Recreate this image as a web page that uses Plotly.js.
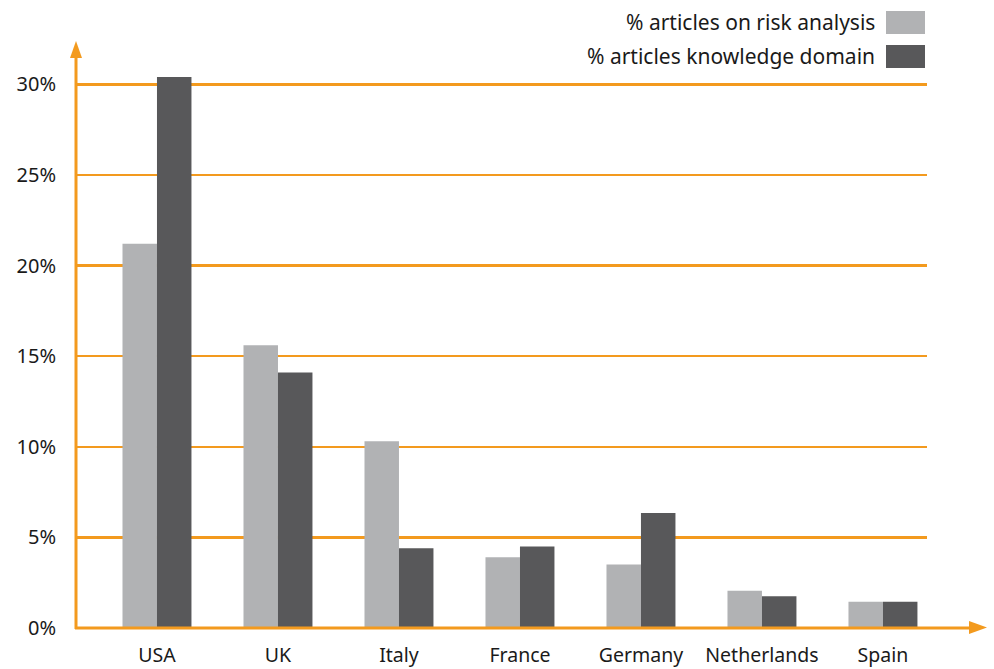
<!DOCTYPE html>
<html>
<head>
<meta charset="utf-8">
<script src="https://cdn.plot.ly/plotly-3.0.1.min.js"></script>
<style>html,body{margin:0;padding:0;background:#fff;}#chart{width:994px;height:669px;}</style>
</head>
<body>
<div id="chart"></div>
<script>
const countries = ["USA", "UK", "Italy", "France", "Germany", "Netherlands", "Spain"];
const riskAnalysis = [21.2, 15.6, 10.3, 3.9, 3.5, 2.05, 1.45];
const knowledgeDomain = [30.4, 14.1, 4.4, 4.5, 6.35, 1.75, 1.45];
const seriesNames = ["% articles on risk analysis", "% articles knowledge domain"];
const yTickVals = [0, 5, 10, 15, 20, 25, 30];
const yTickText = ["0%", "5%", "10%", "15%", "20%", "25%", "30%"];

const W = 994, H = 669;
const M = {l: 77, r: 67, t: 39, b: 41};
const PW = W - M.l - M.r, PH = H - M.t - M.b;
const px = x => (x - M.l) / PW;
const py = y => (H - M.b - y) / PH;

const ORANGE = "#f39a1e";
const LIGHT = "#b1b2b4";
const DARK = "#58585a";
const FONT = "Noto Sans, sans-serif";

const traces = [
  {type: "bar", x: countries, y: riskAnalysis, name: seriesNames[0], marker: {color: LIGHT}, showlegend: false},
  {type: "bar", x: countries, y: knowledgeDomain, name: seriesNames[1], marker: {color: DARK}, showlegend: false}
];

function tri(a, b, c) {
  return `M ${px(a[0])},${py(a[1])} L ${px(b[0])},${py(b[1])} L ${px(c[0])},${py(c[1])} Z`;
}

const shapes = [
  {type: "line", xref: "paper", yref: "paper", x0: px(75), x1: px(972), y0: 0, y1: 0, line: {color: ORANGE, width: 3}, layer: "above"},
  {type: "path", xref: "paper", yref: "paper", path: tri([969, 621], [987, 627.5], [969, 634]), fillcolor: ORANGE, line: {width: 0}},
  {type: "line", xref: "paper", yref: "paper", x0: px(76), x1: px(76), y0: py(629), y1: py(55), line: {color: ORANGE, width: 3}, layer: "above"},
  {type: "path", xref: "paper", yref: "paper", path: tri([70, 58], [76, 41], [82, 58]), fillcolor: ORANGE, line: {width: 0}},
  {type: "rect", xref: "paper", yref: "paper", x0: px(886), x1: px(925), y0: py(34), y1: py(11), fillcolor: LIGHT, line: {width: 0}},
  {type: "rect", xref: "paper", yref: "paper", x0: px(886), x1: px(925), y0: py(68), y1: py(45), fillcolor: DARK, line: {width: 0}}
];

const annotations = [
  {xref: "paper", yref: "paper", x: px(877), y: py(22), xanchor: "right", yanchor: "middle", text: seriesNames[0], showarrow: false, font: {family: FONT, size: 21, color: "#1a1a1a"}},
  {xref: "paper", yref: "paper", x: px(877), y: py(56), xanchor: "right", yanchor: "middle", text: seriesNames[1], showarrow: false, font: {family: FONT, size: 21, color: "#1a1a1a"}}
];

const layout = {
  width: W, height: H,
  margin: M,
  paper_bgcolor: "#fff", plot_bgcolor: "#fff",
  barmode: "group", bargap: 0.43, bargroupgap: 0,
  font: {family: FONT, color: "#1a1a1a"},
  xaxis: {
    type: "category", range: [-0.661, 6.364],
    showgrid: false, zeroline: false, showline: false, ticks: "",
    tickfont: {family: FONT, size: 19.5, color: "#1a1a1a"},
    ticklabelstandoff: 13
  },
  yaxis: {
    range: [0, 32.5], tickvals: yTickVals, ticktext: yTickText,
    showgrid: true, gridcolor: ORANGE, gridwidth: 2.5,
    zeroline: false, showline: false, ticks: "",
    tickfont: {family: FONT, size: 20, color: "#1a1a1a"},
    ticklabelstandoff: 20
  },
  shapes: shapes,
  annotations: annotations
};

Plotly.newPlot("chart", traces, layout, {displayModeBar: false, staticPlot: true});
</script>
</body>
</html>
